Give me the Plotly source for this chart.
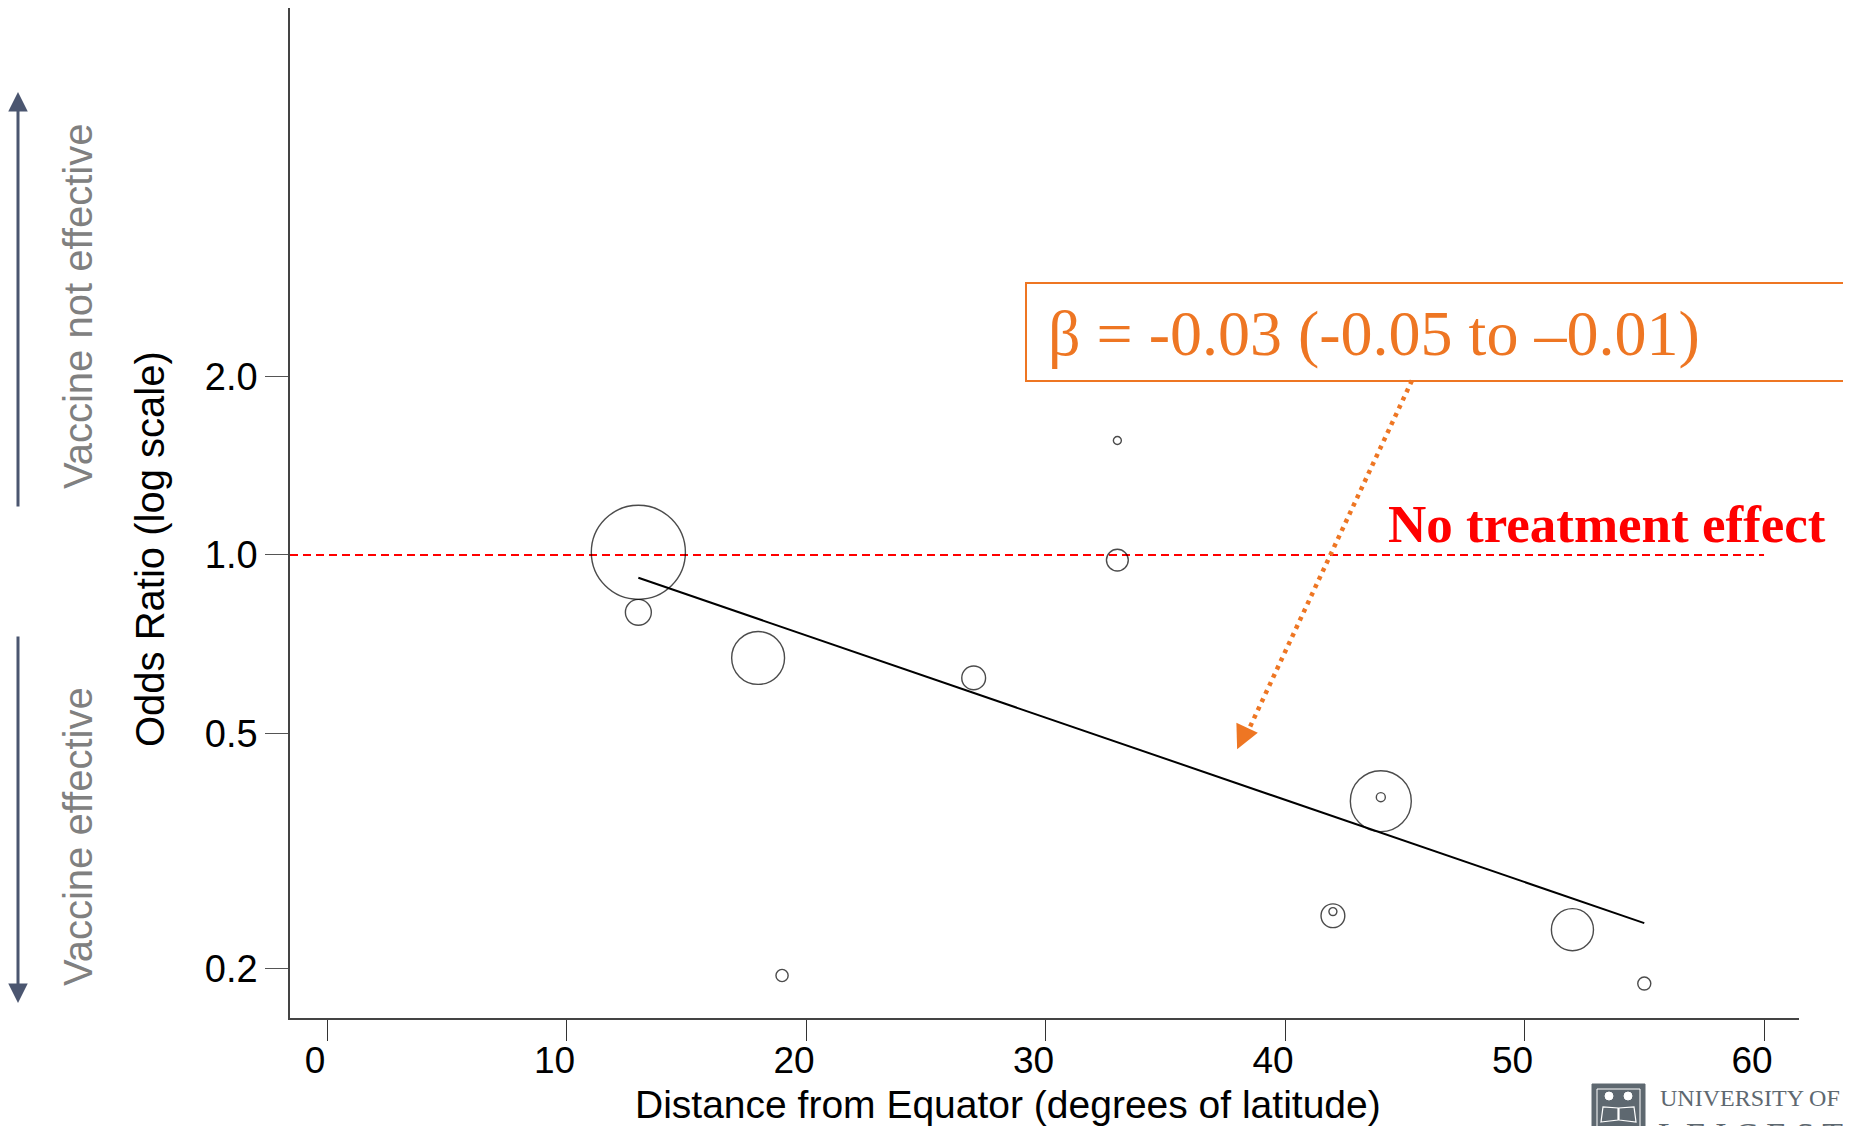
import numpy as np
import plotly.graph_objects as go

# ---------------- data ----------------
latitude = [13, 13, 18, 19, 27, 33, 33, 42, 42, 44, 44, 52, 55]
odds_ratio = [1.01, 0.80, 0.67, 0.195, 0.62, 1.56, 0.98, 0.25, 0.246, 0.39, 0.384, 0.233, 0.189]
study_weight = [250, 19, 79, 4.2, 16, 1.8, 13.5, 1.8, 16, 2.3, 105, 50, 4.8]

fit_latitude = [13, 55]
fit_odds_ratio = [0.915, 0.239]

no_effect_or = 1.0
x_ticks = [0, 10, 20, 30, 40, 50, 60]
y_ticks = [0.2, 0.5, 1.0, 2.0]
y_tick_labels = ["0.2", "0.5", "1.0", "2.0"]

beta_text = "β = -0.03 (-0.05 to –0.01)"
arrow_from = (45.3, 1.97)
arrow_to = (38.0, 0.47)

# ---------------- layout geometry (screen pixels) ----------------
SW, SH = 1851, 1126          # browser window
OFF = 8                      # default body margin of the html page
FW, FH = SW - OFF, SH - OFF  # figure size
L, R, T, B = 290, 1799, 8, 1018   # plot area on screen
PW, PH = R - L, B - T


def pxx(xp):
    return (xp - L) / PW


def pxy(yp):
    return (B - yp) / PH


x_range = [-1.545, 61.46]
y_range = [-0.7817, 0.9232]

ORANGE = "#EE7623"
SLATE = "#4B5670"
SANS = "Liberation Sans, Arial, sans-serif"
SERIF = "Liberation Serif, Times New Roman, serif"

fig = go.Figure()

# reference line (no treatment effect)
fig.add_trace(go.Scatter(
    x=[x_range[0], x_ticks[-1]], y=[no_effect_or, no_effect_or], mode="lines",
    line=dict(color="#FF0000", width=2, dash="8px,5px"), hoverinfo="skip"))

# fitted meta-regression line
fig.add_trace(go.Scatter(
    x=fit_latitude, y=fit_odds_ratio, mode="lines",
    line=dict(color="black", width=2), hoverinfo="skip"))

# study bubbles (diameter proportional to sqrt(weight))
diam = 5.95 * np.sqrt(np.array(study_weight))
fig.add_trace(go.Scatter(
    x=latitude, y=odds_ratio, mode="markers",
    marker=dict(size=diam, sizemode="diameter", color="rgba(0,0,0,0)",
                line=dict(color="#000000", width=1.4)),
    cliponaxis=False))

# dotted orange arrow shaft
fig.add_trace(go.Scatter(
    x=[arrow_from[0], arrow_to[0] + 0.3], y=[arrow_from[1], arrow_to[1] * 1.04], mode="lines",
    line=dict(color=ORANGE, width=4.5, dash="4px,5px"), hoverinfo="skip"))

shapes = []
annotations = []

# orange box with beta
shapes.append(dict(type="rect", xref="paper", yref="paper",
                   x0=pxx(1026), x1=pxx(1845), y0=pxy(381), y1=pxy(283),
                   line=dict(color=ORANGE, width=2), fillcolor="rgba(255,255,255,0)"))
annotations.append(dict(xref="paper", yref="paper", x=pxx(1046), y=pxy(334),
                        xanchor="left", yanchor="middle", showarrow=False,
                        text=beta_text, font=dict(family=SERIF, size=64, color=ORANGE)))

# arrowhead of orange arrow
annotations.append(dict(xref="x", yref="y", x=arrow_to[0], y=np.log10(arrow_to[1]),
                        ax=7, ay=-15, text="", showarrow=True, arrowhead=2,
                        arrowsize=1.05, arrowwidth=4.5, arrowcolor=ORANGE))

# No treatment effect label
annotations.append(dict(xref="paper", yref="paper", x=pxx(1828), y=pxy(524),
                        xanchor="right", yanchor="middle", showarrow=False,
                        text="<b>No treatment effect</b>",
                        font=dict(family=SERIF, size=53, color="#FF0000")))

# axis titles
annotations.append(dict(xref="paper", yref="paper", x=pxx(1008), y=pxy(1104),
                        xanchor="center", yanchor="middle", showarrow=False,
                        text="Distance from Equator (degrees of latitude)",
                        font=dict(family=SANS, size=39, color="black")))
annotations.append(dict(xref="paper", yref="paper", x=pxx(150), y=pxy(549),
                        xanchor="center", yanchor="middle", showarrow=False, textangle=-90,
                        text="Odds Ratio (log scale)",
                        font=dict(family=SANS, size=40, color="black")))

# side labels and arrows
annotations.append(dict(xref="paper", yref="paper", x=pxx(78), y=pxy(307),
                        xanchor="center", yanchor="middle", showarrow=False, textangle=-90,
                        text="Vaccine not effective",
                        font=dict(family=SANS, size=40, color="#808080")))
annotations.append(dict(xref="paper", yref="paper", x=pxx(78), y=pxy(837),
                        xanchor="center", yanchor="middle", showarrow=False, textangle=-90,
                        text="Vaccine effective",
                        font=dict(family=SANS, size=40, color="#808080")))
annotations.append(dict(xref="paper", yref="paper", x=pxx(18), y=pxy(92),
                        ax=0, ay=416, text="", showarrow=True, arrowhead=2,
                        arrowsize=1.3, arrowwidth=3, arrowcolor=SLATE))
annotations.append(dict(xref="paper", yref="paper", x=pxx(18), y=pxy(1003),
                        ax=0, ay=-368, text="", showarrow=True, arrowhead=2,
                        arrowsize=1.3, arrowwidth=3, arrowcolor=SLATE))

# University of Leicester logo (bottom right, cropped)
LOGO = "#5E6870"
shapes.append(dict(type="rect", xref="paper", yref="paper",
                   x0=pxx(1592), x1=pxx(1645), y0=pxy(1140), y1=pxy(1084),
                   line=dict(color=LOGO, width=1), fillcolor=LOGO))
shapes.append(dict(type="rect", xref="paper", yref="paper",
                   x0=pxx(1597), x1=pxx(1640), y0=pxy(1140), y1=pxy(1089),
                   line=dict(color="white", width=1), fillcolor="rgba(0,0,0,0)"))
for cx in (1609, 1628):
    shapes.append(dict(type="circle", xref="paper", yref="paper",
                       x0=pxx(cx - 4), x1=pxx(cx + 4), y0=pxy(1100), y1=pxy(1092),
                       line=dict(color="white", width=1), fillcolor="white"))
shapes.append(dict(type="path", xref="paper", yref="paper",
                   path=(f"M {pxx(1601)},{pxy(1122)} L {pxx(1618)},{pxy(1120)} L {pxx(1618)},{pxy(1108)} "
                         f"L {pxx(1603)},{pxy(1107)} Z M {pxx(1619)},{pxy(1120)} L {pxx(1636)},{pxy(1122)} "
                         f"L {pxx(1634)},{pxy(1107)} L {pxx(1619)},{pxy(1108)} Z"),
                   line=dict(color="white", width=1.2), fillcolor="rgba(0,0,0,0)"))
annotations.append(dict(xref="paper", yref="paper", x=pxx(1658), y=pxy(1113),
                        xanchor="left", yanchor="bottom", showarrow=False,
                        text="UNIVERSITY OF",
                        font=dict(family=SERIF, size=24, color=LOGO)))
annotations.append(dict(xref="paper", yref="paper", x=pxx(1656), y=pxy(1114),
                        xanchor="left", yanchor="top", showarrow=False,
                        text="L E I C E S T E R",
                        font=dict(family=SERIF, size=34, color=LOGO)))

fig.update_layout(
    width=FW, height=FH,
    margin=dict(l=L - OFF, r=FW - (R - OFF), t=T - OFF, b=FH - (B - OFF), pad=0),
    paper_bgcolor="white", plot_bgcolor="white",
    showlegend=False,
    shapes=shapes, annotations=annotations,
    xaxis=dict(range=x_range, tickmode="array", tickvals=x_ticks,
               ticks="outside", ticklen=21, tickwidth=1, tickcolor="#333",
               showline=True, linecolor="#444", linewidth=1.5,
               showgrid=False, zeroline=False, mirror=False,
               tickfont=dict(family=SANS, size=37, color="black"),
               ticklabelshift=-12, ticklabelstandoff=-12),
    yaxis=dict(type="log", range=y_range, tickmode="array",
               tickvals=y_ticks, ticktext=y_tick_labels,
               ticks="outside", ticklen=23, tickwidth=1, tickcolor="#555",
               showline=True, linecolor="#444", linewidth=1.5,
               showgrid=False, zeroline=False,
               tickfont=dict(family=SANS, size=38, color="black"),
               ticklabelstandoff=0),
)

fig.write_html("out.html")
